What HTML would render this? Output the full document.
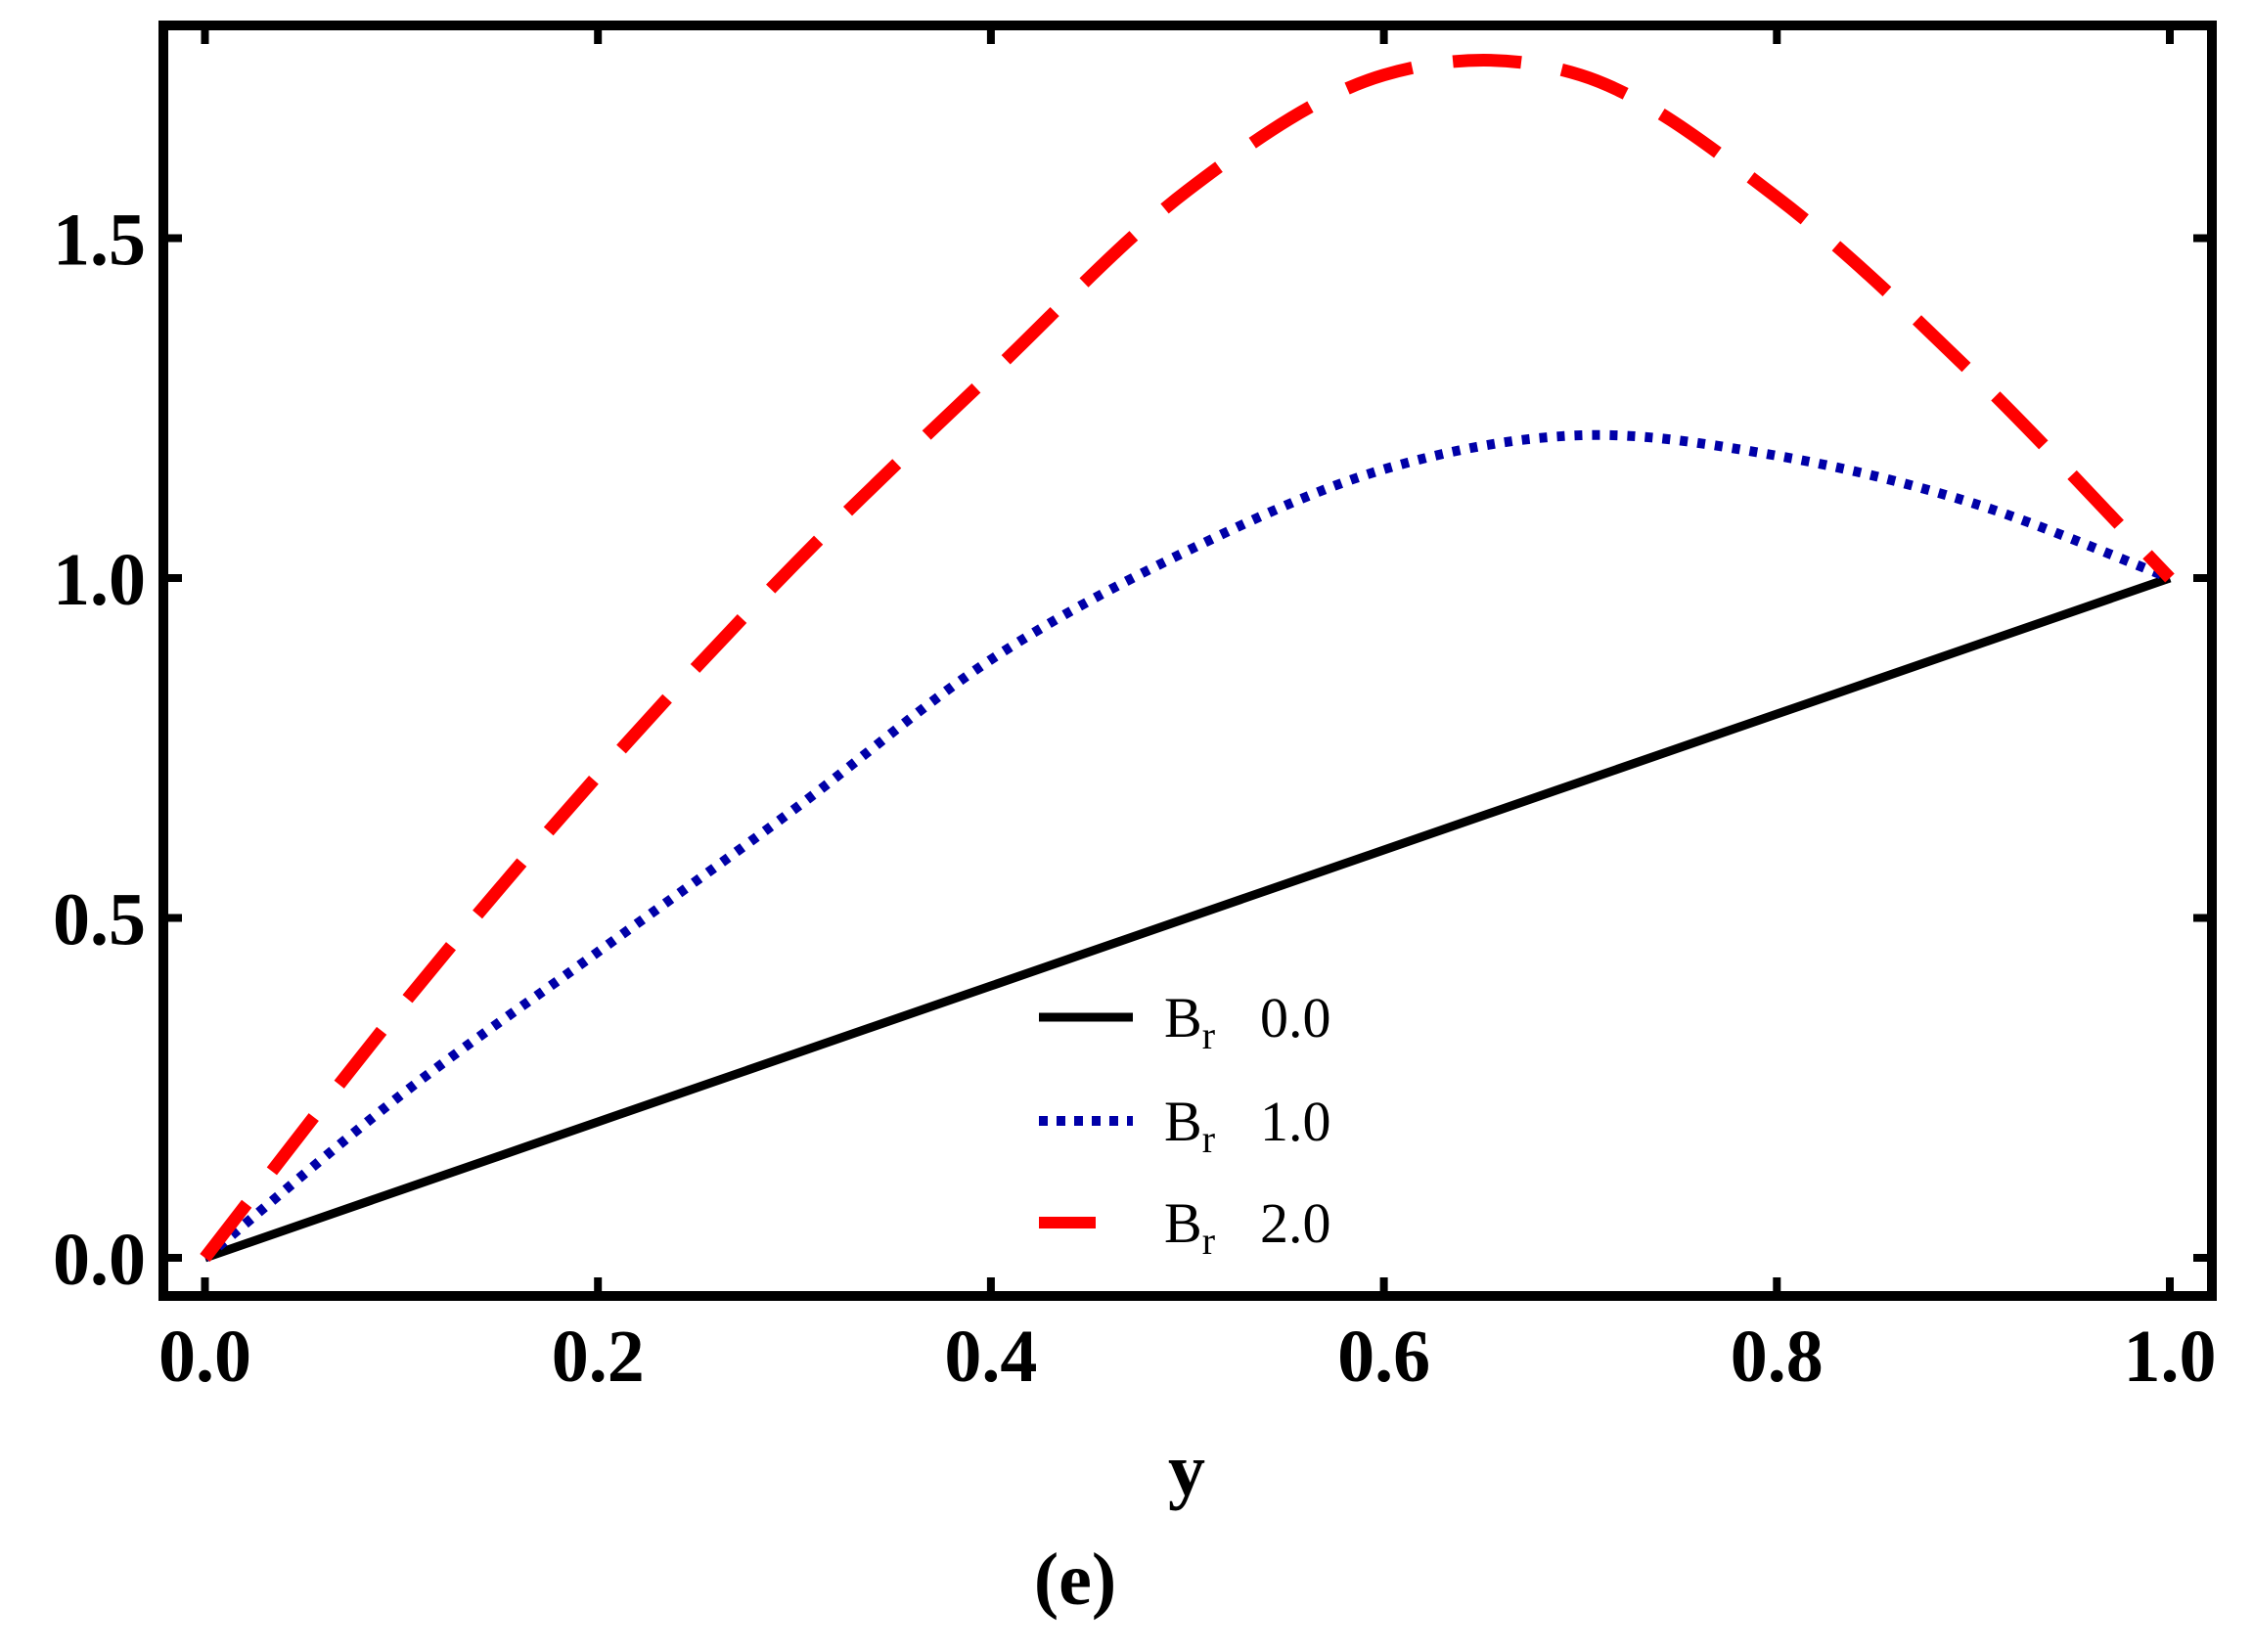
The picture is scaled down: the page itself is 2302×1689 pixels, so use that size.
<!DOCTYPE html>
<html><head><meta charset="utf-8"><style>
html,body{margin:0;padding:0;background:#fff;}
svg{display:block;}
text{font-family:"Liberation Serif",serif;}
</style></head><body>
<svg id="chart" width="2302" height="1689" viewBox="0 0 2302 1689" xmlns="http://www.w3.org/2000/svg">
<rect x="167" y="26" width="2094" height="1299" fill="none" stroke="#000" stroke-width="10"/>
<g id="ticks"></g>
<g id="series"></g>
<g id="labels"></g>
<text x="1213" y="1528" font-size="76" font-weight="bold" text-anchor="middle">y</text>
<text x="1099" y="1640" font-size="76" font-weight="bold" text-anchor="middle">(e)</text>
<g>
 <line x1="1062" y1="1040" x2="1158" y2="1040" stroke="#000" stroke-width="9"/>
 <line x1="1062" y1="1146" x2="1158" y2="1146" stroke="#0000a8" stroke-width="10" stroke-dasharray="9 9"/>
 <line x1="1062" y1="1250" x2="1120" y2="1250" stroke="#f00" stroke-width="12"/>
 <text x="1190" y="1060" font-size="58">B<tspan font-size="40" dy="12">r</tspan><tspan dy="-12" x="1288">0.0</tspan></text>
 <text x="1190" y="1166" font-size="58">B<tspan font-size="40" dy="12">r</tspan><tspan dy="-12" x="1288">1.0</tspan></text>
 <text x="1190" y="1270" font-size="58">B<tspan font-size="40" dy="12">r</tspan><tspan dy="-12" x="1288">2.0</tspan></text>
</g>
</svg>
<script>
const xs = [0, 0.1, 0.2, 0.3, 0.4, 0.5, 0.6, 0.7, 0.8, 0.9, 1.0];
const br0 = [0, 0.1, 0.2, 0.3, 0.4, 0.5, 0.6, 0.7, 0.8, 0.9, 1.0];
const br1 = [0, 0.24, 0.45, 0.66, 0.88, 1.04, 1.16, 1.21, 1.18, 1.11, 1.0];
const br2 = [0, 0.37, 0.71, 1.02, 1.30, 1.57, 1.74, 1.74, 1.56, 1.30, 1.0];
const xTicks = ["0.0","0.2","0.4","0.6","0.8","1.0"];
const yTicks = ["0.0","0.5","1.0","1.5"];

const NS = "http://www.w3.org/2000/svg";
const sx = v => 209.5 + v * (2218 - 209.5);
const sy = v => 1286 - v * 695;

function path(vals){
  const p = xs.map((x,i)=>[sx(x), sy(vals[i])]);
  let d = "M" + p[0][0] + "," + p[0][1];
  for (let i=0;i<p.length-1;i++){
    const p0=p[Math.max(i-1,0)], p1=p[i], p2=p[i+1], p3=p[Math.min(i+2,p.length-1)];
    const c1=[p1[0]+(p2[0]-p0[0])/6, p1[1]+(p2[1]-p0[1])/6];
    const c2=[p2[0]-(p3[0]-p1[0])/6, p2[1]-(p3[1]-p1[1])/6];
    d += " C"+c1+" "+c2+" "+p2;
  }
  return d;
}
const g = document.getElementById("series");
function addSeries(vals, name, color, w, dash){
  const el = document.createElementNS(NS,"path");
  el.setAttribute("d", path(vals));
  el.setAttribute("fill","none");
  el.setAttribute("stroke",color);
  el.setAttribute("stroke-width",w);
  if (dash) el.setAttribute("stroke-dasharray",dash);
  
  
  g.appendChild(el);
}
addSeries(br0, "line-br-0", "#000", 9, null);
addSeries(br1, "line-br-1", "#0000a8", 10, "8 10");
addSeries(br2, "line-br-2", "#f00", 13, "70 42");

const tg = document.getElementById("ticks");
const lg = document.getElementById("labels");
xTicks.forEach(t=>{
  const x = sx(parseFloat(t));
  [[1320,1306],[31,45]].forEach(([a,b])=>{
    const l=document.createElementNS(NS,"line");
    l.setAttribute("x1",x);l.setAttribute("x2",x);l.setAttribute("y1",a);l.setAttribute("y2",b);
    l.setAttribute("stroke","#000");l.setAttribute("stroke-width","8");
    
    
    tg.appendChild(l);
  });
  const tx=document.createElementNS(NS,"text");
  tx.setAttribute("x",x);tx.setAttribute("y",1412);
  tx.setAttribute("font-size","76");tx.setAttribute("font-weight","bold");tx.setAttribute("text-anchor","middle");
  tx.textContent=t;
  
  
  lg.appendChild(tx);
});
yTicks.forEach(t=>{
  const y = sy(parseFloat(t));
  [[172,186],[2256,2242]].forEach(([a,b])=>{
    const l=document.createElementNS(NS,"line");
    l.setAttribute("x1",a);l.setAttribute("x2",b);l.setAttribute("y1",y);l.setAttribute("y2",y);
    l.setAttribute("stroke","#000");l.setAttribute("stroke-width","8");
    
    
    tg.appendChild(l);
  });
  const tx=document.createElementNS(NS,"text");
  tx.setAttribute("x",149);tx.setAttribute("y",y+27);
  tx.setAttribute("font-size","76");tx.setAttribute("font-weight","bold");tx.setAttribute("text-anchor","end");
  tx.textContent=t;
  
  
  lg.appendChild(tx);
});
</script>
</body></html>
